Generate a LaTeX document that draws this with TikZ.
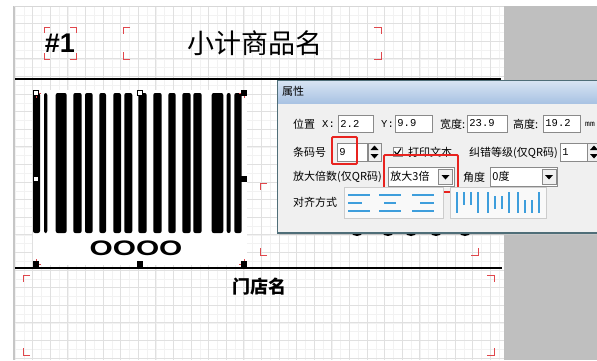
\documentclass[tikz,border=0pt]{standalone}
\usepackage{fontspec}
\setmainfont{Liberation Sans}
\newfontfamily\cjk{Noto Sans CJK SC}
\newfontfamily\numfont{Liberation Mono}
\definecolor{gridmajor}{HTML}{E0E0E0}
\definecolor{gridminor}{HTML}{F2F2F2}
\definecolor{labeledge}{HTML}{C6C6C6}
\definecolor{panelgray}{HTML}{BFBFBF}
\definecolor{markred}{HTML}{E0474C}
\definecolor{hired}{HTML}{E8231F}
\definecolor{dlgbody}{HTML}{F0F0F0}
\definecolor{dlgedge}{HTML}{4F6E78}
\definecolor{boxgray}{HTML}{8A8A8A}
\definecolor{iconblue}{HTML}{3E9EDC}
\definecolor{titletop}{HTML}{D9E5F3}
\definecolor{titlebot}{HTML}{A9C3E3}

% crop marks round an element: x1, y1, x2, y2
\newcommand{\cropmarks}[5][7]{%
  \draw[corner mark] (#2+#1,#3) -- (#2,#3) -- (#2,#3+#1);
  \draw[corner mark] (#4-#1,#3) -- (#4,#3) -- (#4,#3+#1);
  \draw[corner mark] (#2+#1,#5) -- (#2,#5) -- (#2,#5-#1);
  \draw[corner mark] (#4-#1,#5) -- (#4,#5) -- (#4,#5-#1);}

\tikzset{
  corner mark/.style={draw=markred, line width=0.9pt},
  field/.style={draw=boxgray, fill=white, line width=0.6pt, inner sep=0pt, minimum height=17},
  dlg text/.style={font=\cjk\fontsize{11}{12}\selectfont, anchor=west, inner sep=0pt},
  num text/.style={font=\numfont\fontsize{10.5}{12}\selectfont, anchor=west, inner sep=0pt},
  hilite/.style={draw=hired, line width=1.8pt, rounded corners=1pt},
  handle/.style={draw=black, fill=black, minimum size=5pt, inner sep=0pt, line width=0.6pt},
  spin/.style={draw=boxgray, fill=dlgbody, inner sep=0pt, minimum width=13, minimum height=18, line width=0.6pt},
  icon line/.style={draw=iconblue, line width=2.8pt},
}

\begin{document}
\begin{tikzpicture}[x=1pt, y=-1pt]
  \clip (0,0) rectangle (597,360);
  \fill[white] (0,0) rectangle (597,360);
  \fill[panelgray] (504,6) rectangle (597,360);

  % label grid
  \begin{scope}
    \clip (15,6) rectangle (504,360);
    \foreach \i in {0,...,56}
      \draw[gridminor, line width=0.5pt] ({15+8.8*\i},6) -- ({15+8.8*\i},360);
    \foreach \j in {0,...,41}
      \draw[gridminor, line width=0.5pt] (15,{6+8.8*\j}) -- (504,{6+8.8*\j});
    \foreach \i in {1,...,28}
      \draw[gridmajor, line width=0.7pt] ({15+17.6*\i},6) -- ({15+17.6*\i},360);
    \foreach \j in {1,...,20}
      \draw[gridmajor, line width=0.7pt] (15,{6+17.6*\j}) -- (504,{6+17.6*\j});
  \end{scope}
  \draw[labeledge, line width=2pt] (14,6) -- (14,360);
  \draw[labeledge!70, line width=0.8pt] (14,6) -- (504,6);

  % header
  \cropmarks[6]{44}{27}{76}{59}
  \cropmarks{123}{27}{381}{59}
  \node[font=\bfseries\fontsize{27}{27}\selectfont, inner sep=0pt] (num) at (60,43) {\#1};
  \node[font=\cjk\fontsize{27}{27}\selectfont, inner sep=0pt] (title) at (255,43) {小计商品名};
  \draw[line width=1.6pt] (15,79) -- (501,79);

  % barcode
  \fill[white] (33,90) rectangle (247,265);
  \foreach \a/\b in {33/40, 44/47.3, 55.7/66.7, 73.3/81.7, 85/92.7, 99.3/106,
      113.3/121, 124.3/132.3, 138.3/146.7, 153.3/161.7, 168.3/175.7,
      182.3/190.7, 193.3/201.7, 211.7/223.3, 226.7/230.7, 234.3/241.7}
    \fill[rounded corners=2pt] (\a,93) rectangle (\b,233);
  \node[font=\bfseries\fontsize{21}{21}\selectfont, xscale=1.42, inner sep=0pt] (code) at (136,248.5) {OOOO};
  \cropmarks[5]{36}{93}{244}{264}
  \node[handle, fill=white] (h1) at (36,93) {};
  \node[handle, fill=white] (h2) at (140,93) {};
  \node[handle] (h3) at (244,93) {};
  \node[handle, fill=white] (h4) at (36,179) {};
  \node[handle] (h5) at (244,179) {};
  \node[handle] (h6) at (36,264) {};
  \node[handle] (h7) at (140,264) {};
  \node[handle] (h8) at (244,264) {};

  % second element, mostly under the dialog
  \cropmarks{260}{183}{478}{255}

  % footer
  \draw[line width=1.6pt] (15,268) -- (502,268);
  \cropmarks{23}{275}{494}{355}
  \node[font=\cjk\bfseries\fontsize{18}{18}\selectfont, inner sep=0pt] (store) at (259,287) {门店名};

  % properties dialog
  \fill[black!22] (279,82) rectangle (600,235);
  \foreach \c in {357,388,411,436,465}
    \fill (\c,232.5) ellipse (5.5 and 3.5);
  \fill[dlgbody] (277,80) rectangle (600,233);
  \shade[top color=titletop, bottom color=titlebot] (277,80) rectangle (600,103);
  \draw[dlgedge, line width=1pt] (277,233) -- (277,80) -- (600,80);
  \draw[dlgedge, line width=1.4pt] (277,233) -- (600,233);
  \node[dlg text] (dlgtitle) at (282,91.5) {属性};

  % row 1
  \node[dlg text] (pos) at (293,124) {位置};
  \node[num text] (xlab) at (322,124) {X:};
  \node[field, minimum width=35] (fx) at (355.5,123.5) {};
  \node[num text] (vx) at ([xshift=2.5]fx.west) {2.2};
  \node[num text] (ylab) at (381,124) {Y:};
  \node[field, minimum width=37] (fy) at (413.5,123.5) {};
  \node[num text] (vy) at ([xshift=2.5]fy.west) {9.9};
  \node[dlg text] (wlab) at (440,124) {宽度:};
  \node[field, minimum width=40] (fw) at (487,123.5) {};
  \node[num text] (vw) at ([xshift=2.5]fw.west) {23.9};
  \node[dlg text] (hlab) at (513,124) {高度:};
  \node[field, minimum width=37] (fh) at (561.5,123.5) {};
  \node[num text] (vh) at ([xshift=2.5]fh.west) {19.2};
  \node[num text, font=\numfont\fontsize{8}{9}\selectfont] (unit) at (585,124) {mm};

  % row 2
  \node[dlg text] (codelab) at (293,152.5) {条码号};
  \node[field, minimum width=30, minimum height=18] (fcode) at (352,152) {};
  \node[num text] (vcode) at ([xshift=2.5]fcode.west) {9};
  \node[spin] (scode) at (374.5,152) {};
  \fill (370.5,150) -- (378.5,150) -- (374.5,145.5) -- cycle;
  \fill (370.5,154) -- (378.5,154) -- (374.5,158.5) -- cycle;
  \draw[hilite] (332,137) rectangle (357,164);
  \node[draw=boxgray, fill=white, minimum size=9, inner sep=0pt, line width=0.6pt] (chk) at (397.5,152) {};
  \draw[line width=1.2pt] (394.5,151.5) -- (397,154.5) -- (401,148.5);
  \node[dlg text] (printlab) at (408,152.5) {打印文本};
  \node[dlg text] (eclab) at (469,152.5) {纠错等级(仅QR码)};
  \node[field, minimum width=27, minimum height=18] (fec) at (573.5,152) {};
  \node[num text] (vec) at ([xshift=2.5]fec.west) {1};
  \node[spin] (sec) at (594,152) {};
  \fill (590,150) -- (598,150) -- (594,145.5) -- cycle;
  \fill (590,154) -- (598,154) -- (594,158.5) -- cycle;

  % row 3
  \node[dlg text] (zoomlab) at (293,177) {放大倍数(仅QR码)};
  \node[field, minimum width=66, minimum height=19] (fzoom) at (421,176.5) {};
  \node[dlg text] (vzoom) at ([xshift=2.5]fzoom.west) {放大3倍};
  \node[draw=boxgray, fill=dlgbody, minimum width=14, minimum height=15, inner sep=0pt, line width=0.5pt] (bzoom) at (445.5,176.5) {};
  \fill (441.5,175) -- (449.5,175) -- (445.5,179.5) -- cycle;
  \draw[hilite] (384,155) rectangle (458,192);
  \node[dlg text] (anglelab) at (463,177) {角度};
  \node[field, minimum width=67, minimum height=19] (fangle) at (523.5,176.5) {};
  \node[dlg text] (vangle) at ([xshift=2.5]fangle.west) {0度};
  \node[draw=boxgray, fill=dlgbody, minimum width=14, minimum height=15, inner sep=0pt, line width=0.5pt] (bangle) at (549,176.5) {};
  \fill (545,175) -- (553,175) -- (549,179.5) -- cycle;

  % row 4
  \node[dlg text] (alignlab) at (293,202.5) {对齐方式};
  \draw[black!20, fill=white!60!dlgbody] (344,187) rectangle (443,218);
  \draw[black!20, fill=white!60!dlgbody] (450,187) rectangle (546,218);
  % horizontal alignment icons
  \draw[icon line] (348,195) -- (370,195) (348,203) -- (362,203) (348,211) -- (370,211);
  \draw[icon line] (379,195) -- (401,195) (384,203) -- (396,203) (379,211) -- (401,211);
  \draw[icon line] (412,195) -- (434,195) (420,203) -- (434,203) (412,211) -- (434,211);
  % vertical alignment icons
  \foreach \x/\t/\b in {457/192/213, 478/192/213, 488/192/213, 509/192/213, 518/192/213, 539/192/213}
    \draw[icon line] (\x,\t) -- (\x,\b);
  \draw[icon line] (464,192) -- (464,205) (471,192) -- (471,205);
  \draw[icon line] (495,196) -- (495,209) (502,196) -- (502,209);
  \draw[icon line] (525,200) -- (525,213) (532,200) -- (532,213);
\end{tikzpicture}
\end{document}
